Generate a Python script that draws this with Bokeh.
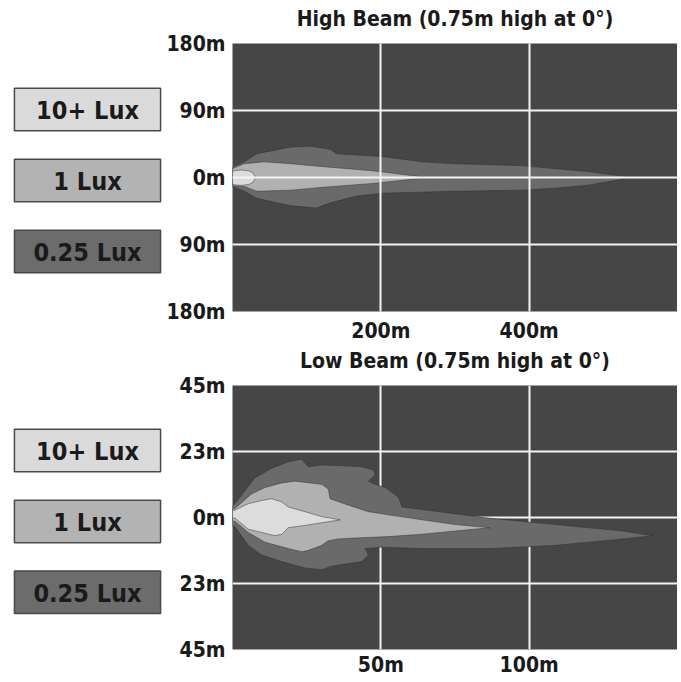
from bokeh.plotting import figure
from bokeh.layouts import column, row
from bokeh.models import Range1d, FixedTicker, LinearAxis
from bokeh.core.properties import value
from bokeh.embed import file_html
from bokeh.resources import INLINE

FONT = "'DejaVu Sans Condensed', 'DejaVu Sans', sans-serif"
TXT = "#1a1a1a"

# ---------------- data ----------------
lux_labels = ["10+ Lux", "1 Lux", "0.25 Lux"]
lux_colors = ["#dadada", "#b3b3b3", "#6c6c6c"]
beam_colors = ["#dcdcdc", "#b1b1b1", "#6a6a6a"]

hb_title = "High Beam (0.75m high at 0°)"
hb_xticks = [200, 400]
hb_xlabels = ["200m", "400m"]
hb_yticks = [-180, -90, 0, 90, 180]
hb_ylabels = ["180m", "90m", "0m", "90m", "180m"]

# High beam 0.25 lux contour
hb_025_up_x = [0, 16, 33, 79, 105, 132, 140, 203, 256, 300, 389, 433, 479, 532]
hb_025_up_y = [14.5, 21, 32, 41, 42, 38, 32, 28, 21, 18.5, 16, 12, 8, 1]
hb_025_lo_x = [0, 16, 33, 79, 113, 132, 167, 203, 300, 389, 433, 479, 532]
hb_025_lo_y = [-12, -18.5, -28, -38, -41, -34, -25, -21, -18.5, -17, -14.5, -10.5, -1]
# High beam 1 lux contour
hb_1_up_x = [0, 16, 43, 79, 123, 189, 260]
hb_1_up_y = [12, 18.5, 21, 18.5, 14.5, 9, 0.5]
hb_1_lo_x = [0, 16, 33, 79, 123, 189, 260]
hb_1_lo_y = [-11, -12, -18.5, -17, -13, -8, -0.5]
# High beam 10+ lux contour
hb_10_up_x = [0, 4, 12, 22, 28, 31]
hb_10_up_y = [8, 9.5, 10, 9, 6, 0]
hb_10_lo_x = [0, 4, 12, 22, 28]
hb_10_lo_y = [-9, -10, -10.5, -9.5, -6]

lb_title = "Low Beam (0.75m high at 0°)"
lb_xticks = [50, 100]
lb_xlabels = ["50m", "100m"]
lb_yticks = [-45, -22.5, 0, 22.5, 45]
lb_ylabels = ["45m", "23m", "0m", "23m", "45m"]

# Low beam 0.25 lux contour
lb_025_up_x = [0, 0.8, 4.2, 7.5, 13.2, 18.8, 23.3, 25.6, 30.1, 35.7, 43.6, 47.5, 48.1, 45.8, 48.1,
               51.5, 56.0, 57.1, 69.5, 86.4, 97.6, 108.9, 120.2, 131.4, 141.6]
lb_025_up_y = [4, 4.7, 9.1, 13.5, 16.8, 19.0, 19.9, 17.3, 17.9, 17.7, 17.3, 16.2, 14.6, 12.4, 11.3,
               10.2, 6.9, 3.6, 2.0, -0.2, -1.3, -2.4, -3.5, -4.6, -6.2]
lb_025_lo_x = [0, 0.8, 5.3, 9.8, 16.6, 24.4, 30.1, 33.4, 43.6, 45.8, 44.7, 50.3, 63.9, 86.4, 108.9, 120.2, 131.4]
lb_025_lo_y = [-3, -3.0, -9.5, -12.8, -15.0, -17.2, -17.8, -16.6, -15.0, -12.8, -10.6, -10.1, -10.6, -10.6, -9.5, -8.4, -7.3]
# Low beam 1 lux contour
lb_1_up_x = [0, 0.8, 6.4, 10.9, 16.6, 21.0, 30.1, 32.3, 32.9, 39.1, 45.8, 52.6, 63.9, 75.1, 86.9]
lb_1_up_y = [3.0, 3.1, 8.0, 10.2, 11.8, 12.4, 11.3, 9.7, 6.4, 4.2, 2.0, 0.9, -0.8, -2.4, -3.5]
lb_1_lo_x = [0, 0.8, 5.3, 10.9, 18.8, 23.3, 25.6, 30.1, 32.3, 35.7, 41.3, 52.6, 63.9, 75.1]
lb_1_lo_y = [-1.2, -1.3, -5.1, -8.4, -10.6, -11.7, -11.2, -9.5, -7.9, -7.3, -7.0, -6.5, -5.7, -4.6]
# Low beam 10+ lux contour
lb_10_up_x = [0, 0.8, 5.3, 9.8, 13.2, 16.6, 18.8, 24.4, 30.1, 36.3]
lb_10_up_y = [2.4, 2.5, 4.7, 5.8, 6.4, 5.3, 3.6, 2.0, 0.3, -0.8]
lb_10_lo_x = [0, 0.8, 5.3, 9.8, 14.3, 16.6, 18.8, 24.4, 30.1]
lb_10_lo_y = [-0.2, -0.2, -4.0, -5.1, -6.2, -5.7, -3.5, -2.7, -1.8]


def outline(ux, uy, lx, ly):
    return list(ux) + list(lx[::-1]), list(uy) + list(ly[::-1])


def legend_fig(height, border_top, border_bottom, yr):
    slots = list(range(len(lux_labels)))[::-1]   # first label on top
    f = figure(width=163, height=height, output_backend="svg", toolbar_location=None,
               x_range=Range1d(-0.02, 1.02), y_range=Range1d(*yr),
               min_border_left=11, min_border_right=0,
               min_border_top=border_top, min_border_bottom=border_bottom)
    f.hbar(y=slots, left=0, right=1, height=0.6, fill_color=lux_colors,
           line_color="#4a4a4a", line_width=1.5)
    f.text(x=[0.5] * len(lux_labels), y=slots, text=lux_labels,
           text_font=value(FONT), text_font_size="25px", text_font_style="bold",
           text_color=TXT, text_align="center", text_baseline="middle", y_offset=1)
    f.axis.visible = False
    f.grid.visible = False
    f.outline_line_color = None
    f.background_fill_color = "white"
    f.border_fill_color = "white"
    return f


def style_axis(ax):
    ax.axis_line_color = None
    ax.major_tick_line_color = None
    ax.minor_tick_line_color = None
    ax.major_tick_out = 0
    ax.major_tick_in = 0
    ax.minor_tick_out = 0
    ax.minor_tick_in = 0
    ax.major_label_text_font = FONT
    ax.major_label_text_font_size = "21px"
    ax.major_label_text_font_style = "bold"
    ax.major_label_text_color = TXT


def beam_fig(title, width, height, xr, yr, xticks, xlabels, yticks, ylabels, shapes,
             border_left, border_top, border_bottom, grid_level, xlabel_standoff):
    p = figure(width=width, height=height, output_backend="svg", toolbar_location=None,
               x_range=Range1d(*xr), y_range=Range1d(*yr),
               min_border_left=border_left, min_border_right=0,
               min_border_top=border_top, min_border_bottom=border_bottom)
    p.background_fill_color = "#464646"
    p.border_fill_color = "white"
    p.outline_line_color = None
    for (xs, ys), col in zip(shapes, beam_colors[::-1]):
        p.patch(xs, ys, fill_color=col, line_color="#2f2f2f", line_width=0.8, line_alpha=0.6)

    bottom_axis = p.below[0]
    left_axis = p.left[0]
    style_axis(bottom_axis)
    style_axis(left_axis)
    bottom_axis.ticker = FixedTicker(ticks=xticks)
    bottom_axis.major_label_overrides = dict(zip(xticks, xlabels))
    bottom_axis.major_label_standoff = xlabel_standoff
    left_axis.ticker = FixedTicker(ticks=yticks)
    left_axis.major_label_overrides = dict(zip(yticks, ylabels))
    left_axis.major_label_standoff = 7

    # title as a tick-less axis label above the frame
    top_axis = LinearAxis(axis_label=title, ticker=FixedTicker(ticks=[]))
    style_axis(top_axis)
    top_axis.major_label_standoff = 0
    top_axis.axis_label_standoff = 13
    top_axis.axis_label_text_font = FONT
    top_axis.axis_label_text_font_size = "21px"
    top_axis.axis_label_text_font_style = "bold"
    top_axis.axis_label_text_color = TXT
    p.add_layout(top_axis, "above")

    p.xgrid.ticker = FixedTicker(ticks=xticks)
    p.ygrid.ticker = FixedTicker(ticks=yticks[1:-1])
    p.grid.grid_line_color = "#f4f4f4"
    p.grid.grid_line_width = 2
    p.grid.level = grid_level
    return p


hb_shapes = [outline(hb_025_up_x, hb_025_up_y, hb_025_lo_x, hb_025_lo_y),
             outline(hb_1_up_x, hb_1_up_y, hb_1_lo_x, hb_1_lo_y),
             outline(hb_10_up_x, hb_10_up_y, hb_10_lo_x, hb_10_lo_y)]
lb_shapes = [outline(lb_025_up_x, lb_025_up_y, lb_025_lo_x, lb_025_lo_y),
             outline(lb_1_up_x, lb_1_up_y, lb_1_lo_x, lb_1_lo_y),
             outline(lb_10_up_x, lb_10_up_y, lb_10_lo_x, lb_10_lo_y)]

leg_hb = legend_fig(345, 43, 32, (-0.846, 2.93))
p_hb = beam_fig(hb_title, 514, 345, (0, 600), (-180, 180), hb_xticks, hb_xlabels,
                hb_yticks, hb_ylabels, hb_shapes, 69, 43, 32, "overlay", 7)
leg_lb = legend_fig(334, 38, 28, (-0.806, 2.917))
p_lb = beam_fig(lb_title, 514, 334, (0, 150), (-45, 45), lb_xticks, lb_xlabels,
                lb_yticks, lb_ylabels, lb_shapes, 69, 38, 28, "underlay", 3)

layout = column(row(leg_hb, p_hb), row(leg_lb, p_lb))
open("out.html", "w").write(file_html(layout, INLINE))
